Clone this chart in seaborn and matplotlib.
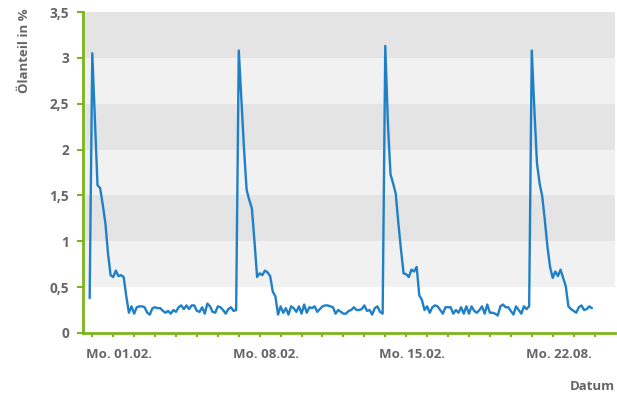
import pandas as pd
import matplotlib
matplotlib.use("Agg")
import matplotlib.pyplot as plt
import matplotlib.dates as mdates
import matplotlib.transforms as mtransforms
from matplotlib.ticker import FuncFormatter, FixedLocator
import seaborn as sns

# 3-hourly readings, first one at 21:00 on the evening before Mo. 01.02.
start_time = "2021-01-31 21:00"
step = "3h"

pre_start = [0.38]
week_1 = [3.05, 2.33, 1.61, 1.58, 1.40, 1.20, 0.87, 0.63, 0.61, 0.68, 0.62, 0.63, 0.61, 0.40,
          0.22, 0.29, 0.21, 0.28, 0.29, 0.29, 0.28, 0.22, 0.20, 0.27, 0.28, 0.27, 0.27, 0.24,
          0.22, 0.24, 0.21, 0.25, 0.23, 0.28, 0.30, 0.26, 0.30, 0.26, 0.30, 0.30, 0.24, 0.23,
          0.28, 0.21, 0.32, 0.29, 0.23, 0.22, 0.29, 0.28, 0.25, 0.21, 0.26, 0.28, 0.24, 0.25]
week_2 = [3.08, 2.55, 2.01, 1.56, 1.45, 1.36, 1.00, 0.61, 0.65, 0.63, 0.68, 0.66, 0.62, 0.45,
          0.40, 0.20, 0.29, 0.22, 0.27, 0.20, 0.29, 0.27, 0.23, 0.29, 0.21, 0.31, 0.22, 0.28,
          0.27, 0.29, 0.23, 0.26, 0.29, 0.30, 0.30, 0.29, 0.28, 0.21, 0.25, 0.23, 0.21, 0.21,
          0.24, 0.25, 0.28, 0.25, 0.25, 0.26, 0.30, 0.24, 0.25, 0.20, 0.27, 0.29, 0.23, 0.21]
week_3 = [3.13, 2.29, 1.73, 1.63, 1.52, 1.20, 0.91, 0.65, 0.64, 0.61, 0.69, 0.67, 0.72, 0.41,
          0.36, 0.25, 0.29, 0.22, 0.28, 0.30, 0.29, 0.25, 0.21, 0.28, 0.28, 0.28, 0.21, 0.25,
          0.22, 0.28, 0.21, 0.29, 0.21, 0.29, 0.24, 0.22, 0.25, 0.29, 0.21, 0.31, 0.22, 0.22,
          0.21, 0.19, 0.29, 0.31, 0.28, 0.28, 0.24, 0.20, 0.29, 0.25, 0.21, 0.29, 0.26, 0.29]
week_4 = [3.08, 2.43, 1.85, 1.63, 1.49, 1.23, 0.94, 0.72, 0.60, 0.67, 0.62, 0.69, 0.60, 0.51,
          0.29, 0.26, 0.24, 0.22, 0.28, 0.30, 0.25, 0.26, 0.29, 0.27]

tick_days = ["2021-02-01", "2021-02-08", "2021-02-15", "2021-02-22"]
tick_labels = ["Mo. 01.02.", "Mo. 08.02.", "Mo. 15.02.", "Mo. 22.08."]
band_edges = [0.5, 1.0, 1.5, 2.0, 2.5, 3.0, 3.5]

oil_share = pre_start + week_1 + week_2 + week_3 + week_4
df = pd.DataFrame({
    "Datum": pd.date_range(start_time, periods=len(oil_share), freq=step),
    "Ölanteil": oil_share,
})

GREEN = "#7ab51d"
GREY_TEXT = "#666666"
BLUE = "#1f80c8"

sns.set_theme(style="white")
plt.rcParams["font.family"] = ["Open Sans", "DejaVu Sans"]

fig = plt.figure(figsize=(6.17, 4.07), dpi=100)
ax = fig.add_axes([0.1345, 0.182, 0.862, 0.7885])

# alternating horizontal bands
for i in range(len(band_edges) - 1):
    shade = "#f1f1f1" if i % 2 == 0 else "#e3e4e3"
    ax.axhspan(band_edges[i], band_edges[i + 1], color=shade, lw=0, zorder=0)

sns.lineplot(data=df, x="Datum", y="Ölanteil", ax=ax, color=BLUE, linewidth=1.7, zorder=3)

x0 = pd.Timestamp("2021-02-01") - pd.Timedelta(days=0.444)
x1 = pd.Timestamp("2021-02-01") + pd.Timedelta(days=24.97)
ax.set_xlim(x0, x1)
ax.set_ylim(0, 3.5)

# labelled Mondays as major ticks, every day as minor tick
ax.xaxis.set_major_locator(FixedLocator(mdates.date2num(pd.to_datetime(tick_days))))
ax.xaxis.set_major_formatter(FuncFormatter(lambda v, p: tick_labels[p] if p is not None and p < len(tick_labels) else ""))
ax.xaxis.set_minor_locator(mdates.DayLocator())
ax.tick_params(axis="x", which="both", length=3, width=1.5, color=GREEN, direction="out", bottom=True)
ax.tick_params(axis="x", which="major", pad=8, labelsize=9.5, labelcolor=GREY_TEXT)
shift = mtransforms.ScaledTranslation(0.27, 0, fig.dpi_scale_trans)
for lbl in ax.get_xticklabels():
    lbl.set_transform(lbl.get_transform() + shift)
    lbl.set_fontweight("bold")

ax.set_yticks([0, 0.5, 1, 1.5, 2, 2.5, 3, 3.5])
ax.yaxis.set_major_formatter(FuncFormatter(lambda v, p: f"{v:g}".replace(".", ",")))
ax.tick_params(axis="y", length=4, width=1.5, color=GREEN, direction="out", left=True,
               pad=6, labelsize=9.8, labelcolor=GREY_TEXT)
for lbl in ax.get_yticklabels():
    lbl.set_fontweight("bold")

sns.despine(ax=ax)
for side in ["left", "bottom"]:
    ax.spines[side].set_color(GREEN)
    ax.spines[side].set_linewidth(2)

ax.set_ylabel("Ölanteil in %", loc="top", fontsize=9.5, fontweight="bold", color=GREY_TEXT)
ax.yaxis.set_label_coords(-0.097, 1.012)
ax.set_xlabel("Datum", loc="right", fontsize=9.5, fontweight="bold", color=GREY_TEXT)
ax.xaxis.set_label_coords(1.0, -0.146)

fig.savefig("out.png", dpi=100)
